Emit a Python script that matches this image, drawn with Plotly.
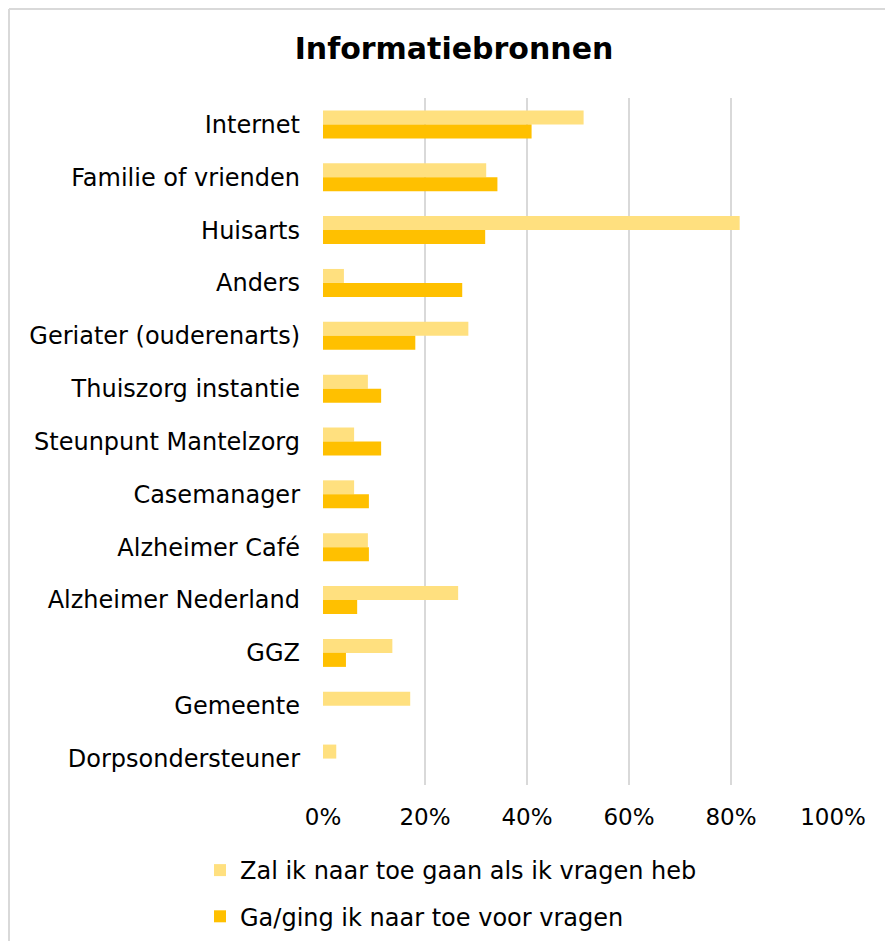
import plotly.graph_objects as go

categories = ["Internet", "Familie of vrienden", "Huisarts", "Anders",
              "Geriater (ouderenarts)", "Thuiszorg instantie", "Steunpunt Mantelzorg",
              "Casemanager", "Alzheimer Café", "Alzheimer Nederland", "GGZ",
              "Gemeente", "Dorpsondersteuner"]
zal_ik = [0.511, 0.320, 0.817, 0.041, 0.285, 0.088, 0.061, 0.061, 0.088, 0.265, 0.136, 0.171, 0.026]
ging_ik = [0.409, 0.342, 0.318, 0.273, 0.181, 0.114, 0.114, 0.090, 0.090, 0.067, 0.045, 0.0, 0.0]
series_names = ["Zal ik naar toe gaan als ik vragen heb", "Ga/ging ik naar toe voor vragen"]
tick_vals = [0, 0.2, 0.4, 0.6, 0.8, 1.0]
tick_text = ["0%", "20%", "40%", "60%", "80%", "100%"]

FONT = "Verdana, DejaVu Sans, sans-serif"
W, H = 885, 941
L, R, T, B = 323, 52, 98, 156
pw, ph = W - L - R, H - T - B

def px(x):
    return (x - L) / pw

def py(y):
    return (H - B - y) / ph

fig = go.Figure()
fig.add_trace(go.Bar(y=categories, x=zal_ik, orientation="h", name=series_names[0],
                     legendgroup="a",
                     marker=dict(color="#FFE07F", line=dict(width=0))))
fig.add_trace(go.Bar(y=categories, x=ging_ik, orientation="h", name=series_names[1],
                     legendgroup="b",
                     marker=dict(color="#FFC000", line=dict(width=0))))

fig.update_layout(
    width=W, height=H,
    margin=dict(l=L, r=R, t=T, b=B, autoexpand=False),
    paper_bgcolor="white", plot_bgcolor="white",
    barmode="group", bargap=0.47, bargroupgap=0,
    font=dict(family=FONT, size=24, color="#000000"),
    title=dict(text="<b>Informatiebronnen</b>", x=0.513, xanchor="center",
               y=1 - 48 / H, yanchor="middle",
               font=dict(family=FONT, size=30, color="#000000")),
    xaxis=dict(range=[0, 1], tickvals=tick_vals, ticktext=tick_text,
               showgrid=True, gridcolor="#D9D9D9", gridwidth=2,
               zeroline=False, showline=False, ticks="", ticklabelstandoff=16,
               tickfont=dict(size=23), automargin=False,
               fixedrange=True),
    yaxis=dict(categoryorder="array", categoryarray=categories, autorange="reversed",
               showgrid=False, zeroline=False, showline=False, ticks="",
               ticklabelstandoff=22, automargin=False),
    legend=dict(orientation="v", x=px(200), xanchor="left", y=py(848), yanchor="top",
                font=dict(family=FONT, size=24, color="#000000"),
                itemwidth=30, tracegroupgap=12, bgcolor="rgba(0,0,0,0)"),
    showlegend=True,
)

fig.add_shape(type="line", xref="paper", yref="paper", x0=px(9), x1=px(885), y0=py(9), y1=py(9),
              line=dict(color="#D9D9D9", width=2))
fig.add_shape(type="line", xref="paper", yref="paper", x0=px(9), x1=px(9), y0=py(9), y1=py(941),
              line=dict(color="#D9D9D9", width=2))

fig.write_html("out.html", config={"displayModeBar": False},
               post_script="document.body.style.margin='0';")
